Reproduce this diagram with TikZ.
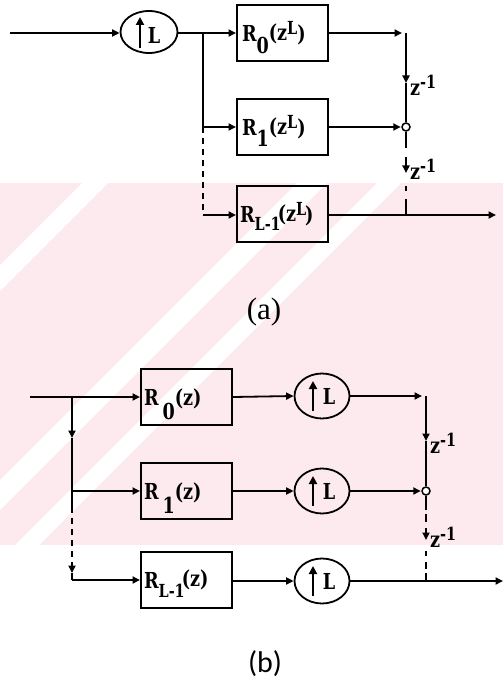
\documentclass[tikz,border=0pt]{standalone}
\usepackage{fontspec}
\usetikzlibrary{arrows.meta,shapes.geometric}
\setmainfont{Liberation Serif}
\newfontfamily\bxf{DejaVu Serif}[FakeStretch=0.8]
\newfontfamily\capb{Carlito}
\newcommand\fs[1]{\fontsize{#1}{#1}\selectfont}
\definecolor{wmpink}{RGB}{253,234,238}
\tikzset{
  ln/.style={line width=1.8pt},
  arr/.style={ln,-{Triangle[length=7.5pt,width=7pt]}},
  tipin/.style={line width=2pt,-{Triangle[length=8pt,width=8pt]}},
  box/.style={draw,line width=2pt,minimum width=91pt,minimum height=56pt,inner sep=3pt,font=\bxf\bfseries\fs{22}},
  circ/.style={draw,ellipse,line width=1.8pt,inner sep=0pt},
  sm/.style={draw,circle,line width=1.5pt,fill=white,minimum size=8pt,inner sep=0pt},
  lab/.style={inner sep=0pt,font=\bxf\bfseries\fs{22}},
  dsh/.style={ln,dash pattern=on 6pt off 5pt},
}
\begin{document}
\begin{tikzpicture}[x=1pt,y=-1pt]
\useasboundingbox (0,0) rectangle (503,695);
% faint watermark
\begin{scope}
\clip (0,183) rectangle (503,545);
\fill[wmpink] (0,183) rectangle (503,545);
\foreach \c/\w in {265/26,480/30,560/24}{
  \fill[white] (\c-183,183) -- (\c+\w-183,183) -- (\c+\w-545,545) -- (\c-545,545) -- cycle;
}
\end{scope}

% ---------------- (a) ----------------
\coordinate (ina) at (10,33);
\node[circ,minimum width=57pt,minimum height=42pt] (ua) at (149,32) {};
\draw[tipin] ([xshift=-9pt,yshift=-16pt]ua.center) -- ([xshift=-9pt,yshift=15pt]ua.center);
\node[lab] (uaL) at ([xshift=5pt,yshift=-3pt]ua.center) {L};
\node[box] (r0a) at (282.5,33) {\makebox[85pt][l]{\kern2pt R\smash{\raisebox{-12pt}{0}\raisebox{1pt}{(z}\raisebox{7pt}{\fs{18}L})}}};
\node[box] (r1a) at (282.5,127) {\makebox[85pt][l]{\kern2pt R\smash{\raisebox{-11pt}{1}\raisebox{1pt}{(z}\raisebox{7pt}{\fs{18}L})}}};
\node[box] (rLa) at (282.5,214) {\makebox[85pt][l]{R\smash{\raisebox{-8pt}{\fs{18}L-1}\kern-3pt\raisebox{1pt}{(z}\raisebox{7pt}{\fs{18}L}\kern-1pt)}}};
\coordinate (ba) at (203,33);
\coordinate (ba1) at (203,127);
\coordinate (ba2) at (203,215);
\draw[arr] (ina) -- (ua.west|-ina);
\draw[arr] (ua.east|-ba) -- (r0a.west);
\draw[ln] (ba) -- (ba1);
\draw[arr] (ba1) -- (r1a.west);
\draw[dsh] (ba1) -- (ba2);
\draw[arr] (ba2) -- (rLa.west|-ba2);
% right side (a)
\coordinate (ca0) at (406,33);
\coordinate (za1) at (406,83);
\node[sm] (sca) at (406,127) {};
\coordinate (sa1) at (406,148);
\coordinate (sa2) at (406,157);
\coordinate (za2) at (406,173);
\coordinate (sa3) at (406,186);
\coordinate (sa4) at (406,191);
\coordinate (sa5) at (406,199);
\coordinate (ja) at (406,215);
\coordinate (outa) at (496,215);
\draw[arr,shorten >=4pt] (r0a.east) -- (ca0);
\draw[arr] (ca0) -- (za1);
\draw[ln] (za1) -- (sca.north);
\draw[arr,shorten >=0.5pt] (r1a.east) -- (sca.west);
\draw[ln] (sca.south) -- (sa1);
\draw[arr] (sa2) -- (za2);
\draw[ln] (sa3) -- (sa4);
\draw[ln] (sa5) -- (ja);
\draw[arr] (rLa.east|-ja) -- (outa);
\node[lab,anchor=west] (zla1) at (410,85) {z\raisebox{7pt}{\fs{18}-1}};
\node[lab,anchor=west] (zla2) at (410,169) {z\raisebox{7pt}{\fs{18}-1}};
\node[inner sep=0pt,font=\fs{31}] (capa) at (264,312) {(a)};

% ---------------- (b) ----------------
\coordinate (inb) at (30,397);
\coordinate (bb) at (72,397);
\node[box] (r0b) at (186.5,397) {\makebox[85pt][l]{R\kern4pt\smash{\raisebox{-14pt}{0}(z)}}};
\node[box] (r1b) at (186.5,491) {\makebox[85pt][l]{R\kern4pt\smash{\raisebox{-14pt}{1}(z)}}};
\node[box] (rLb) at (186.5,580) {\makebox[85pt][l]{R\smash{\raisebox{-9pt}{\fs{18}L-1}\kern-3pt\raisebox{2pt}{(z)}}}};
\node[circ,minimum width=55pt,minimum height=45pt] (ub0) at (322,396) {};
\node[circ,minimum width=55pt,minimum height=45pt] (ub1) at (322,491) {};
\node[circ,minimum width=55pt,minimum height=45pt] (ubL) at (322,581) {};
\foreach \u in {ub0,ub1,ubL}{
  \draw[tipin] ([xshift=-9pt,yshift=-15pt]\u.center) -- ([xshift=-9pt,yshift=15pt]\u.center);
}
\node[lab] (ub0L) at ([xshift=7pt]ub0.center) {L};
\node[lab] (ub1L) at ([xshift=7pt]ub1.center) {L};
\node[lab] (ubLL) at ([xshift=7pt]ubL.center) {L};
\coordinate (zb0) at (72,438);
\coordinate (bb1) at (72,491);
\coordinate (bbd) at (72,507);
\coordinate (bbt) at (72,573);
\coordinate (bb2) at (72,580);
\draw[arr] (inb) -- (r0b.west);
\draw[arr] (bb) -- (zb0);
\draw[ln] (zb0) -- (bb1);
\draw[arr] (bb1) -- (r1b.west);
\draw[ln] (bb1) -- (bbd);
\draw[dsh,-{Triangle[length=7.5pt,width=7pt]}] (bbd) -- (bbt);
\draw[ln] (bbt) -- (bb2);
\draw[arr] (bb2) -- (rLb.west|-bb2);
\draw[arr] (r0b.east) -- (ub0.west);
\draw[arr] (r1b.east) -- (ub1.west);
\draw[arr] (rLb.east|-ubL) -- (ubL.west);
% right side (b)
\coordinate (cb0) at (426,396);
\coordinate (zb1) at (426,441);
\node[sm] (scb) at (426,491) {};
\coordinate (sb1) at (426,510);
\coordinate (sb2) at (426,514);
\coordinate (sb3) at (426,522);
\coordinate (sb4) at (426,528);
\coordinate (zb2) at (426,540);
\coordinate (sb5) at (426,551);
\coordinate (sb6) at (426,556);
\coordinate (sb7) at (426,562);
\coordinate (sb8) at (426,569);
\coordinate (sb9) at (426,573);
\coordinate (jb) at (426,581);
\coordinate (outb) at (503,581);
\draw[arr,shorten >=4pt] (ub0.east) -- (cb0);
\draw[arr] (cb0) -- (zb1);
\draw[ln] (zb1) -- (scb.north);
\draw[arr,shorten >=0.5pt] (ub1.east) -- (scb.west);
\draw[ln] (scb.south) -- (sb1);
\draw[ln] (sb2) -- (sb3);
\draw[arr] (sb4) -- (zb2);
\draw[ln] (sb5) -- (sb6);
\draw[ln] (sb7) -- (sb8);
\draw[ln] (sb9) -- (jb);
\draw[arr] (ubL.east) -- (outb);
\node[lab,anchor=west] (zlb1) at (430,443) {z\raisebox{7pt}{\fs{18}-1}};
\node[lab,anchor=west] (zlb2) at (430,537) {z\raisebox{7pt}{\fs{18}-1}};
\node[inner sep=0pt,font=\capb\fs{30}] (capb) at (265,664) {(b)};
\end{tikzpicture}
\end{document}
